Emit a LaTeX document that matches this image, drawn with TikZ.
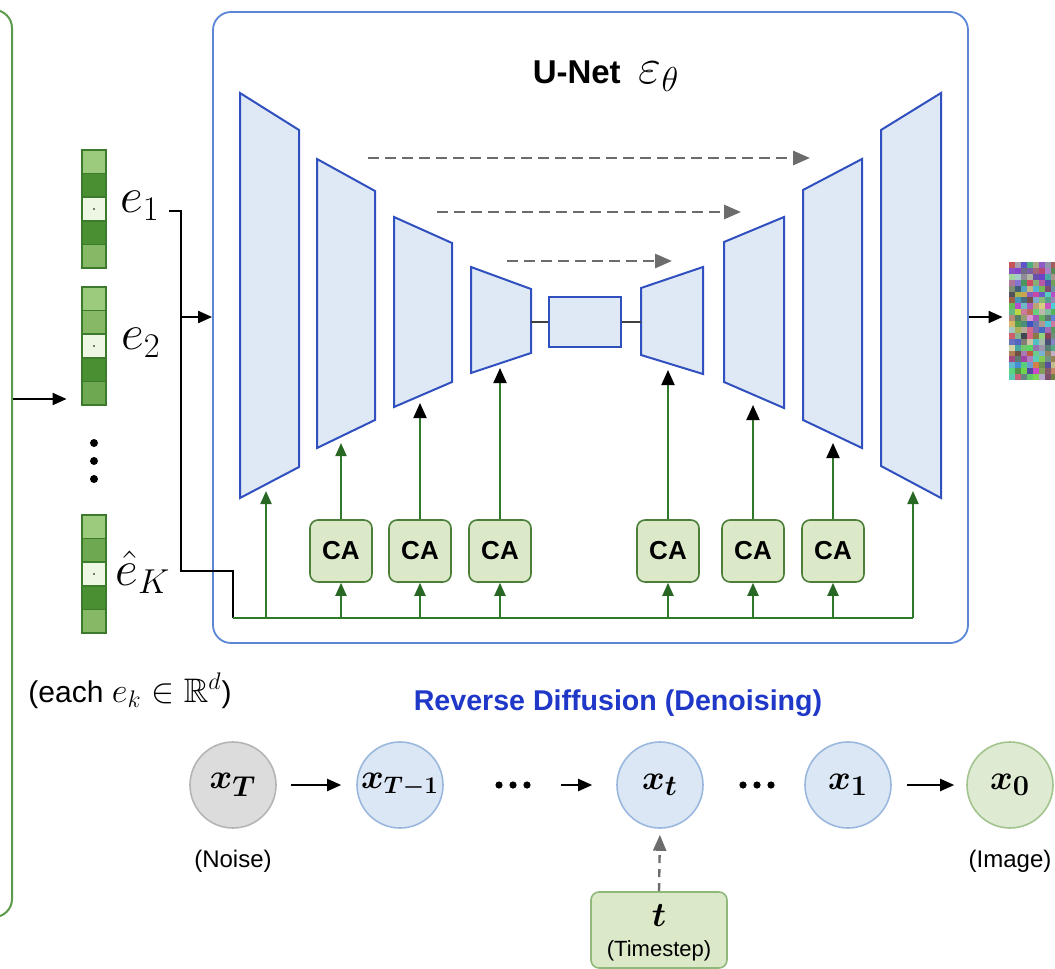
\documentclass[tikz,border=0pt]{standalone}
\usepackage{amsmath,amssymb}
\usepackage{fontspec}
\setmainfont{Liberation Sans}
\usetikzlibrary{arrows.meta}

\definecolor{unetblue}{HTML}{3050C0}
\definecolor{blockfill}{HTML}{DFE8F5}
\definecolor{boxblue}{HTML}{5A86D6}
\definecolor{encgreen}{HTML}{5C9A4C}
\definecolor{busgreen}{HTML}{2F7A2A}
\definecolor{cafill}{HTML}{DCE9C9}
\definecolor{caedge}{HTML}{4E7F3A}
\definecolor{skipgray}{HTML}{6C6C6C}
\definecolor{revblue}{HTML}{2038C8}
\definecolor{vecedge}{HTML}{3C7A2C}
\definecolor{gA}{HTML}{9CCB7E}
\definecolor{gB}{HTML}{86B866}
\definecolor{gC}{HTML}{6EA952}
\definecolor{gD}{HTML}{4A8F32}
\definecolor{gW}{HTML}{EEF6E4}
\definecolor{grayfill}{HTML}{DCDCDC}
\definecolor{grayedge}{HTML}{B5B5B5}
\definecolor{bluefill}{HTML}{DCE7F5}
\definecolor{blueedge}{HTML}{9AB8DE}
\definecolor{greenfill}{HTML}{DEEBD2}
\definecolor{greenedge}{HTML}{A3C48E}
\definecolor{tedge}{HTML}{8FB87A}

% one embedding vector: five cells, the middle one marked with a dot
\newcommand\embvec[6]{%
  \foreach \c [count=\k from 0] in {#2,#3,#4,#5,#6}{
    \filldraw[draw=vecedge, line width=0.8pt, fill=\c]
      (82,{#1+23.6*\k}) rectangle (106,{#1+23.6*(\k+1)});
  }
  \fill[black!70] (94,{#1+23.6*2.5}) circle (1.2);
}

\begin{document}
\begin{tikzpicture}[x=0.5pt,y=-0.5pt,
  blk/.style={draw=unetblue, fill=blockfill, line width=1pt, line join=miter},
  arr/.style={line width=1pt, -{Triangle[length=7pt,width=6pt]}},
  garr/.style={draw=busgreen, line width=1pt, -{Triangle[length=6.5pt,width=5.5pt,color=busgreen!85!black]}},
  karr/.style={draw=busgreen, line width=1pt, -{Triangle[length=7.5pt,width=6.5pt,color=black]}},
  skip/.style={draw=skipgray, line width=1.4pt, dash pattern=on 5.5pt off 3pt,
               -{Triangle[length=8.5pt,width=7pt,color=skipgray]}},
  ca/.style={draw=caedge, fill=cafill, rounded corners=4pt, line width=0.8pt,
             minimum width=31pt, minimum height=31pt, inner sep=0pt,
             font=\fontsize{13}{15}\selectfont\bfseries},
  state/.style={circle, minimum size=43pt, inner sep=0pt, line width=0.8pt,
                font=\fontsize{19}{22}\selectfont},
  small/.style={font=\fontsize{12}{14}\selectfont},
  elabel/.style={font=\fontsize{23}{26}\selectfont}
]
\useasboundingbox (0,0) rectangle (1055,969);
\clip (0,0) rectangle (1055,969);

% encoder frame on the left
\node[draw=encgreen, line width=1pt, rounded corners=9pt,
      minimum width=62pt, minimum height=453.5pt] (enc) at (-50,463.5) {};

% embedding vectors
\embvec{150}{gA}{gD}{gW}{gD}{gB}
\embvec{287}{gA}{gB}{gW}{gD}{gC}
\embvec{515}{gA}{gC}{gW}{gD}{gB}
\node[minimum width=12pt, minimum height=59pt, inner sep=0pt] (v1) at (94,209) {};
\node[minimum width=12pt, minimum height=59pt, inner sep=0pt] (v2) at (94,346) {};
\node[minimum width=12pt, minimum height=59pt, inner sep=0pt] (vK) at (94,574) {};
\foreach \yy in {443,461,479} \fill (94,\yy) circle (4);

\node[elabel] (e1) at (140,206) {$e_1$};
\node[elabel] (e2) at (141,343) {$e_2$};
\node[elabel] (eK) at (143,572) {$\hat{e}_K$};

\draw[arr, shorten >=7.5pt] (enc.east |- 0,399) -- (v2.west |- 0,399);

% U-Net frame and title
\node[draw=boxblue, line width=0.9pt, rounded corners=9pt,
      minimum width=377.5pt, minimum height=315.5pt] (unet) at (590.5,327.5) {};
\node[font=\fontsize{16.5}{20}\selectfont\bfseries] (title) at (606,76)
  {U-Net\hspace{9pt}{\fontsize{25}{27}\selectfont$\varepsilon_\theta$}};

% encoder blocks
\draw[blk] (240,93) -- (299,130) -- (299,467) -- (240,498) -- cycle;
\draw[blk] (317,159) -- (375,191) -- (375,420) -- (317,448) -- cycle;
\draw[blk] (394,217) -- (452,243) -- (452,382) -- (394,407) -- cycle;
\draw[blk] (471,267) -- (531,289) -- (531,353) -- (471,373) -- cycle;
% bottleneck
\node[blk, minimum width=36pt, minimum height=25pt, inner sep=0pt] (mid) at (585,322) {};
% decoder blocks
\draw[blk] (641,288) -- (703,267) -- (703,374) -- (641,355) -- cycle;
\draw[blk] (724,242) -- (784,217) -- (784,408) -- (724,382) -- cycle;
\draw[blk] (803,190) -- (862,159) -- (862,448) -- (803,420) -- cycle;
\draw[blk] (881,130) -- (941,93) -- (941,498) -- (881,466) -- cycle;

\coordinate (b4r) at (531,322);
\coordinate (d4l) at (641,322);
\draw[line width=0.8pt, black!75] (b4r) -- (mid.west);
\draw[line width=0.8pt, black!75] (mid.east) -- (d4l);

% skip connections
\coordinate (s1a) at (368,158); \coordinate (s1b) at (810,158);
\coordinate (s2a) at (437,212); \coordinate (s2b) at (741,212);
\coordinate (s3a) at (507,261); \coordinate (s3b) at (672,261);
\draw[skip] (s1a) -- (s1b);
\draw[skip] (s2a) -- (s2b);
\draw[skip] (s3a) -- (s3b);

% cross-attention blocks
\node[ca] (ca1) at (341,551) {CA};
\node[ca] (ca2) at (420,551) {CA};
\node[ca] (ca3) at (500,551) {CA};
\node[ca] (ca4) at (668,551) {CA};
\node[ca] (ca5) at (753,551) {CA};
\node[ca] (ca6) at (833,551) {CA};

% entry points on the blocks
\coordinate (b1in) at (266,491);
\coordinate (b2in) at (341,443);
\coordinate (b3in) at (420,403);
\coordinate (b4in) at (500,368);
\coordinate (d4in) at (668,370);
\coordinate (d3in) at (753,405);
\coordinate (d2in) at (833,443);
\coordinate (d1in) at (913,491);

% conditioning path
\coordinate (hook) at (169,211);
\coordinate (turn) at (181,571);
\coordinate (busL) at (233,618);
\coordinate (busR) at (913,618);
\draw[line width=1pt, line join=miter] (hook) -| (turn) -| (busL);
\draw[arr] (turn |- 0,317) -- (unet.west |- 0,317);
\draw[busgreen, line width=1pt] (busL) -- (busR);

\draw[garr] (b1in |- busL) -- (b1in);
\draw[garr] (d1in |- busL) -- (d1in);
\foreach \n in {ca1,ca2,ca3,ca4,ca5,ca6}
  \draw[garr] (\n |- busL) -- (\n.south);
\draw[garr] (ca1.north) -- (b2in);
\draw[karr] (ca2.north) -- (b3in);
\draw[karr] (ca3.north) -- (b4in);
\draw[karr] (ca4.north) -- (d4in);
\draw[karr] (ca5.north) -- (d3in);
\draw[karr] (ca6.north) -- (d2in);

% predicted noise
\node[minimum width=25pt, minimum height=59pt, inner sep=0pt] (noise) at (1034,321) {};
\pgfmathsetseed{7}
\foreach \i in {0,...,7}{
  \foreach \j in {0,...,19}{
    \pgfmathsetmacro\nr{0.25+0.60*rnd}
    \pgfmathsetmacro\ng{0.25+0.60*rnd}
    \pgfmathsetmacro\nb{0.25+0.60*rnd}
    \definecolor{nz}{rgb}{\nr,\ng,\nb}
    \fill[nz] ({1009+6*\i},{262+5.9*\j}) rectangle +(6,5.9);
  }
}
\draw[arr, shorten >=3pt] (unet.east |- 0,317) -- (noise.west |- 0,317);

% reverse diffusion chain
\node[font=\fontsize{15}{17}\selectfont] (note) at (130,691)
  {(each {\fontsize{17}{19}\selectfont$e_k \in \mathbb{R}^d$})};
\node[font=\fontsize{14.3}{16}\selectfont\bfseries, text=revblue] (revlbl) at (618,703)
  {Reverse Diffusion (Denoising)};

\node[state, fill=grayfill, draw=grayedge] (xT) at (233,785) {$\boldsymbol{x_T}$};
\node[state, fill=bluefill, draw=blueedge, font=\fontsize{17}{20}\selectfont] (xT1) at (400,785) {$\boldsymbol{x_{T-1}}$};
\node[state, fill=bluefill, draw=blueedge] (xt) at (660,785) {$\boldsymbol{x_t}$};
\node[state, fill=bluefill, draw=blueedge] (x1) at (848,785) {$\boldsymbol{x_1}$};
\node[state, fill=greenfill, draw=greenedge] (x0) at (1010,785) {$\boldsymbol{x_0}$};

\node[minimum width=24pt, minimum height=8pt] (dA) at (513,785) {};
\node[minimum width=24pt, minimum height=8pt] (dB) at (757,785) {};
\foreach \dx in {-14,0,14} {
  \fill (513+\dx,785) circle (3.6);
  \fill (757+\dx,785) circle (3.6);
}

\draw[arr, shorten <=7pt, shorten >=7.5pt] (xT.east) -- (xT1.west);
\draw[arr, shorten <=12pt, shorten >=12pt] (dA.east) -- (xt.west);
\draw[arr, shorten <=7.5pt, shorten >=6pt] (x1.east) -- (x0.west);

\node[small] (noiselbl) at (233,861) {(Noise)};
\node[small] (imglbl) at (1010,861) {(Image)};

% timestep input
\node[draw=tedge, fill=cafill, line width=0.8pt, rounded corners=4pt,
      minimum width=68pt, minimum height=38pt, inner sep=0pt] (tb) at (659,930) {};
\node[font=\fontsize{18}{20}\selectfont] (tsym) at (659,916) {$\boldsymbol{t}$};
\node[font=\fontsize{11}{13}\selectfont] (tlbl) at (659,951) {(Timestep)};
\draw[draw=skipgray, line width=1.2pt, dash pattern=on 4pt off 3pt,
      -{Triangle[length=8pt,width=6.5pt,color=skipgray]}, shorten >=3pt]
  (tb.north) -- (xt.south);
\end{tikzpicture}
\end{document}
